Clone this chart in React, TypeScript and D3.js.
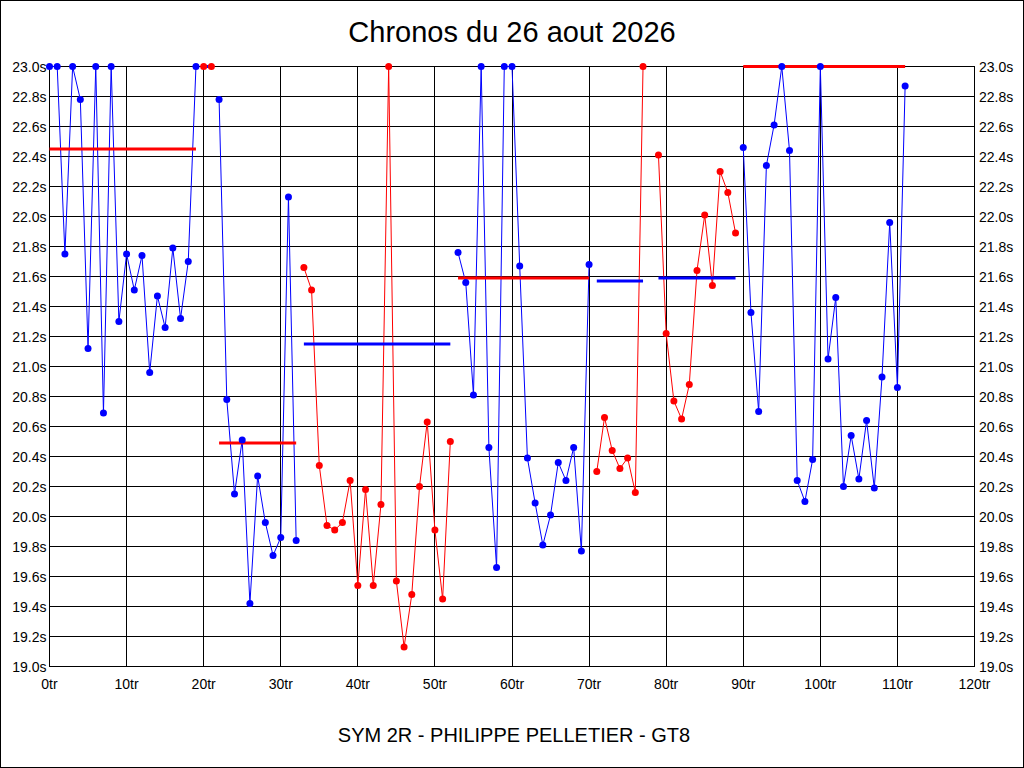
import * as d3 from 'd3';

// lap times in seconds (values above 23.0s are shown capped at 23.0s)
const lapTimes: (number | null)[] = [
  23.0, 23.0, 21.75, 23.0, 22.78, 21.12, 23.0, 20.69, 23.0, 21.3,
  21.75, 21.51, 21.74, 20.96, 21.47, 21.26, 21.79, 21.32, 21.7, 23.0,
  23.0, 23.0, 22.78, 20.78, 20.15, 20.51, 19.42, 20.27, 19.96, 19.74,
  19.86, 22.13, 19.84, 21.66, 21.51, 20.34, 19.94, 19.91, 19.96, 20.24,
  19.54, 20.18, 19.54, 20.08, 23.0, 19.57, 19.13, 19.48, 20.2, 20.63,
  19.91, 19.45, 20.5, 21.76, 21.56, 20.81, 23.0, 20.46, 19.66, 23.0,
  23.0, 21.67, 20.39, 20.09, 19.81, 20.01, 20.36, 20.24, 20.46, 19.77,
  21.68, 20.3, 20.66, 20.44, 20.32, 20.39, 20.16, 23.0, null, 22.41,
  21.22, 20.77, 20.65, 20.88, 21.64, 22.01, 21.54, 22.3, 22.16, 21.89,
  22.46, 21.36, 20.7, 22.34, 22.61, 23.0, 22.44, 20.24, 20.1, 20.38,
  23.0, 21.05, 21.46, 20.2, 20.54, 20.25, 20.64, 20.19, 20.93, 21.96,
  20.86, 22.87,
];

// relays (stints): first lap, last lap, driver colour, average time
const stintStart = [0, 20, 22, 33, 53, 71, 79, 90];
const stintEnd = [19, 21, 32, 52, 70, 77, 89, 111];
const stintColor = ['#0000ff', '#ff0000', '#0000ff', '#ff0000', '#0000ff', '#ff0000', '#ff0000', '#0000ff'];
const stintAvg = [22.45, 23.0, 20.49, 21.15, 21.59, 21.57, 21.59, 23.0];

const xTicks = d3.range(0, 121, 10);
const yTicks = d3.range(0, 21).map((i) => 19 + i * 0.2);

const W = 1024;
const H = 768;
const FONT = '"Liberation Sans", Arial, sans-serif';

export default function App() {
  const x = d3.scaleLinear().domain([0, 120]).range([49.5, 974.5]);
  const y = d3.scaleLinear().domain([19, 23]).range([666.5, 66.5]);
  const crisp = (v: number) => Math.round(v - 0.5) + 0.5;

  const line = d3
    .line<number>()
    .x((i) => x(i))
    .y((i) => y(Math.min(23, lapTimes[i] as number)));

  const stints = stintStart.map((s, k) => {
    const laps = d3.range(s, stintEnd[k] + 1).filter((i) => lapTimes[i] != null);
    return {
      laps,
      color: stintColor[k],
      avgColor: stintColor[k] === '#0000ff' ? '#ff0000' : '#0000ff',
      avg: stintAvg[k],
      start: s,
      end: stintEnd[k],
    };
  });

  return (
    <svg
      width={W}
      height={H}
      style={{ position: 'fixed', left: 0, top: 0, background: '#fff' }}
      fontFamily={FONT}
    >
      <rect x={0.5} y={0.5} width={W - 1} height={H - 1} fill="#fff" stroke="#000" />

      <text x={512} y={42} textAnchor="middle" fontSize={29} fill="#000">
        Chronos du 26 aout 2026
      </text>

      {/* grid */}
      <g stroke="#000" strokeWidth={1} shapeRendering="crispEdges">
        {xTicks.map((t) => (
          <line key={'gx' + t} x1={crisp(x(t))} x2={crisp(x(t))} y1={y(23)} y2={y(19)} />
        ))}
        {yTicks.map((t) => (
          <line key={'gy' + t} x1={x(0)} x2={x(120)} y1={crisp(y(t))} y2={crisp(y(t))} />
        ))}
      </g>

      {/* tick labels */}
      <g fontSize={14} fill="#000">
        {yTicks.map((t) => (
          <text key={'yl' + t} x={46.5} y={y(t) + 5} textAnchor="end">
            {t.toFixed(1)}s
          </text>
        ))}
        {yTicks.map((t) => (
          <text key={'yr' + t} x={979} y={y(t) + 5} textAnchor="start">
            {t.toFixed(1)}s
          </text>
        ))}
        {xTicks.map((t) => (
          <text key={'xl' + t} x={x(t)} y={689} textAnchor="middle">
            {t}tr
          </text>
        ))}
      </g>

      {/* lap time lines */}
      {stints.map((s, k) => (
        <path key={'l' + k} d={line(s.laps) || ''} fill="none" stroke={s.color} strokeWidth={1} />
      ))}

      {/* stint averages */}
      {stints.map((s, k) => (
        <line
          key={'a' + k}
          x1={x(s.start)}
          x2={x(s.end)}
          y1={y(s.avg)}
          y2={y(s.avg)}
          stroke={s.avgColor}
          strokeWidth={3}
        />
      ))}

      {/* markers */}
      {stints.map((s, k) => (
        <g key={'m' + k} fill={s.color}>
          {s.laps.map((i) => (
            <circle key={i} cx={x(i)} cy={y(Math.min(23, lapTimes[i] as number))} r={3.5} />
          ))}
        </g>
      ))}

      <text x={514} y={741.5} textAnchor="middle" fontSize={20} fill="#000">
        SYM 2R - PHILIPPE PELLETIER - GT8
      </text>
    </svg>
  );
}
